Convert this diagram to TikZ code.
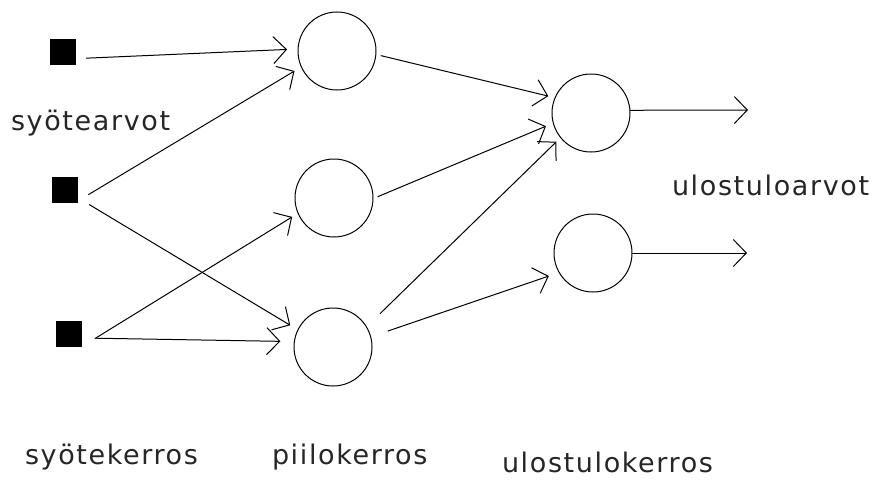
\documentclass[tikz,border=0pt]{standalone}
\usepackage{fontspec}
\setmainfont{DejaVu Sans}
\usetikzlibrary{arrows.meta}
\begin{document}
\begin{tikzpicture}[x=1pt,y=-1pt,
  every node/.style={inner sep=0pt, outer sep=0pt},
  inp/.style={rectangle, fill=black, minimum size=26pt},
  neuron/.style={circle, draw=black, line width=1pt, minimum size=78pt},
  arr/.style={line width=1pt, -{Straight Barb[length=13pt,width=27pt,line width=1pt]}},
  lbl/.style={anchor=base west, text=black!85,
    font=\fontsize{27}{28}\selectfont\addfontfeature{LetterSpace=6}}]
\useasboundingbox (0,0) rectangle (874,479);
% input units
\node[inp] (s1) at (63,52) {};
\node[inp] (s2) at (65,190) {};
\node[inp] (s3) at (69,334) {};
% hidden layer
\node[neuron] (h1) at (337,51) {};
\node[neuron] (h2) at (334,198) {};
\node[neuron] (h3) at (333,347) {};
% output layer
\node[neuron] (o1) at (591,113) {};
\node[neuron] (o2) at (593,253) {};
% free ends of the output arrows
\coordinate (y1) at (748,110);
\coordinate (y2) at (747,253);
% input -> hidden
\draw[arr, shorten <=10pt, shorten >=11pt] (s1.-27) -- (h1.177);
\draw[arr, shorten <=12pt, shorten >=8pt] (s2.-40) -- (h1.204);
\draw[arr, shorten <=13pt, shorten >=9pt] (s2.-31) -- (h3.154);
\draw[arr, shorten <=15pt, shorten >=7pt] (s3.-44) -- (h2.203);
\draw[arr, shorten <=14pt, shorten >=14pt] (s3.-17) -- (h3.172);
% hidden -> output
\draw[arr, shorten <=5pt, shorten >=7pt] (h1.-5) -- (o1.157);
\draw[arr, shorten <=5pt, shorten >=8pt] (h2.-1) -- (o1.195);
\draw[arr, shorten <=19pt, shorten >=6pt] (h3.31) -- (o1.219);
\draw[arr, shorten <=18pt, shorten >=11pt] (h3.15) -- (o2.210);
% outputs
\draw[arr] (o1.4) -- (y1);
\draw[arr] (o2.east) -- (y2);
% labels
\node[lbl] (t1) at (11,130) {syötearvot};
\node[lbl] (t2) at (672,195) {ulostuloarvot};
\node[lbl] (t3) at (25,464) {syötekerros};
\node[lbl] (t4) at (272,464) {piilokerros};
\node[lbl] (t5) at (502,472) {ulostulokerros};
\end{tikzpicture}
\end{document}
